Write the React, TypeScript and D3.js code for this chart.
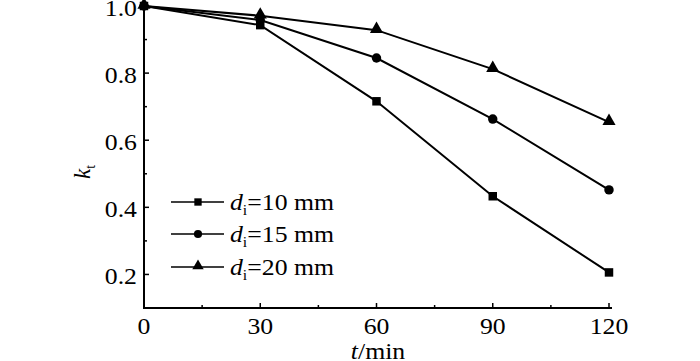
import React, { useRef, useEffect } from "react";
import * as d3 from "d3";

const times = [0, 30, 60, 90, 120];
const series10 = [1.0, 0.943, 0.716, 0.433, 0.206];
const series15 = [1.0, 0.958, 0.845, 0.663, 0.452];
const series20 = [1.0, 0.971, 0.928, 0.812, 0.654];
const seriesNames = ["10 mm", "15 mm", "20 mm"];
const xTicks = [0, 30, 60, 90, 120];
const xMinor = [15, 45, 75, 105];
const yTicks = [0.2, 0.4, 0.6, 0.8, 1.0];
const yMinor = [0.3, 0.5, 0.7, 0.9];

const FONT = "Liberation Serif";
const FS = 23;
const SX = 1.12;

const App: React.FC = () => {
  const ref = useRef<SVGSVGElement | null>(null);

  useEffect(() => {
    if (!ref.current) return;
    const svg = d3.select(ref.current);
    svg.selectAll("*").remove();

    const x = d3.scaleLinear().domain([0, 120]).range([144, 609]);
    const y = d3.scaleLinear().domain([0.1, 1.0]).range([308, 6]);

    const g = svg.append("g").attr("font-family", FONT);

    // axes
    g.append("line")
      .attr("x1", x(0)).attr("x2", 612)
      .attr("y1", y(0.1)).attr("y2", y(0.1))
      .attr("stroke", "#000").attr("stroke-width", 2);
    g.append("line")
      .attr("x1", x(0)).attr("x2", x(0))
      .attr("y1", y(0.1) + 1).attr("y2", y(1.0) - 2)
      .attr("stroke", "#000").attr("stroke-width", 2);

    // ticks (inward)
    g.selectAll(".xt")
      .data(xTicks.filter((d) => d > 0))
      .join("line")
      .attr("x1", (d) => x(d)).attr("x2", (d) => x(d))
      .attr("y1", y(0.1)).attr("y2", y(0.1) - 5)
      .attr("stroke", "#000").attr("stroke-width", 1.5);
    g.selectAll(".xm")
      .data(xMinor)
      .join("line")
      .attr("x1", (d) => x(d)).attr("x2", (d) => x(d))
      .attr("y1", y(0.1)).attr("y2", y(0.1) - 3)
      .attr("stroke", "#000").attr("stroke-width", 1.5);
    g.selectAll(".yt")
      .data(yTicks)
      .join("line")
      .attr("x1", x(0)).attr("x2", x(0) + 5)
      .attr("y1", (d) => y(d)).attr("y2", (d) => y(d))
      .attr("stroke", "#000").attr("stroke-width", 1.5);
    g.selectAll(".ym")
      .data(yMinor)
      .join("line")
      .attr("x1", x(0)).attr("x2", x(0) + 3)
      .attr("y1", (d) => y(d)).attr("y2", (d) => y(d))
      .attr("stroke", "#000").attr("stroke-width", 1.5);

    // tick labels
    g.selectAll(".xl")
      .data(xTicks)
      .join("text")
      .attr("transform", (d) => `translate(${x(d)},334) scale(${SX},1)`)
      .attr("text-anchor", "middle")
      .attr("font-size", FS)
      .text((d) => String(d));
    g.selectAll(".yl")
      .data(yTicks)
      .join("text")
      .attr("transform", (d) => `translate(137,${y(d) + 10}) scale(${SX},1)`)
      .attr("text-anchor", "end")
      .attr("font-size", FS)
      .text((d) => d.toFixed(1));

    // axis titles
    const xt = g.append("text")
      .attr("transform", `translate(378,359) scale(${SX},1)`)
      .attr("text-anchor", "middle")
      .attr("font-size", FS);
    xt.append("tspan").attr("font-style", "italic").text("t");
    xt.append("tspan").text("/min");

    const yt = g.append("text")
      .attr("transform", "translate(90,172) rotate(-90)")
      .attr("text-anchor", "middle")
      .attr("font-size", FS);
    yt.append("tspan").attr("font-style", "italic").text("k");
    yt.append("tspan").attr("dy", 5).attr("font-size", 14).text("t");

    // series
    const all = [series10, series15, series20];
    const symbols = [d3.symbolSquare, d3.symbolCircle, d3.symbolTriangle];
    const sizes = [72, 70, 75];
    const line = d3
      .line<number>()
      .x((_, i) => x(times[i]))
      .y((d) => y(d));

    all.forEach((s, k) => {
      g.append("path")
        .attr("d", line(s))
        .attr("fill", "none")
        .attr("stroke", "#000")
        .attr("stroke-width", 2);
      g.selectAll(`.m${k}`)
        .data(s)
        .join("path")
        .attr("transform", (d, i) => `translate(${x(times[i])},${y(d) + (k === 2 ? -1 : 0)})`)
        .attr("d", d3.symbol().type(symbols[k]).size(sizes[k])())
        .attr("fill", "#000");
    });

    // legend
    const legY = [202, 234, 267];
    seriesNames.forEach((name, k) => {
      const ly = legY[k];
      g.append("line")
        .attr("x1", 171).attr("x2", 224)
        .attr("y1", ly).attr("y2", ly)
        .attr("stroke", "#000").attr("stroke-width", 1.5);
      g.append("path")
        .attr("transform", `translate(198,${ly + (k === 2 ? -1 : 0)})`)
        .attr("d", d3.symbol().type(symbols[k]).size(sizes[k] * 0.75)())
        .attr("fill", "#000");
      const t = g.append("text")
        .attr("transform", `translate(230,${ly + 8}) scale(${SX},1)`)
        .attr("font-size", FS);
      t.append("tspan").attr("font-style", "italic").text("d");
      t.append("tspan").attr("dy", 5).attr("font-size", 14).text("i");
      t.append("tspan").attr("dy", -5).text(`=${name}`);
    });
  }, []);

  return (
    <svg
      ref={ref}
      width={700}
      height={361}
      style={{ position: "absolute", left: 0, top: 0, background: "#fff" }}
    />
  );
};

export default App;
